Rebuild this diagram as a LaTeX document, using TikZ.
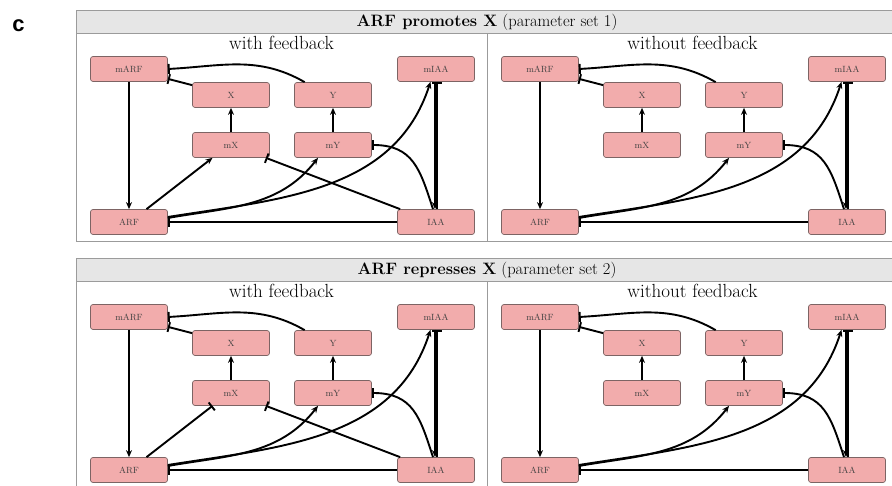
\documentclass[tikz,border=0pt]{standalone}
\usepackage{fontspec}
\newfontfamily\labelfont{Liberation Sans}
\usetikzlibrary{arrows.meta,positioning,calc}
\definecolor{boxpink}{RGB}{242,172,172}
\definecolor{boxedge}{RGB}{125,100,100}
\definecolor{headgray}{RGB}{230,230,230}
\definecolor{framegray}{RGB}{155,155,155}

\begin{document}
\begin{tikzpicture}[x=1pt, y=1pt,
  species/.style={draw=boxedge, fill=boxpink, rounded corners=2.5pt, line width=0.7pt,
    minimum width=77pt, minimum height=25pt, inner sep=0pt, text=black!75,
    font=\fontsize{9}{10}\selectfont},
  act/.style={-{Stealth[length=7pt,width=6pt]}, line width=1.9pt},
  inh/.style={-{Bar[width=10pt]}, line width=1.9pt},
  frame/.style={draw=framegray, line width=1pt}]

\useasboundingbox (0,0) rectangle (892,486);
\node[font=\labelfont\bfseries\fontsize{22}{22}\selectfont] (label) at (18.5,460) {c};

  % two rows of panels, each with and without feedback
\foreach \row/\ytop/\kind/\pset in {p/475/promotes/1, r/227/represses/2} {
  \draw[frame, fill=headgray] (76,\ytop) rectangle (898,\ytop-22.5);
  \draw[frame] (76,\ytop-22.5) rectangle (898,\ytop-231);
  \draw[frame] (487,\ytop-22.5) -- (487,\ytop-231);
  \node[font=\fontsize{16.5}{18}\selectfont] (\row title) at (487,\ytop-11.5) {\textbf{ARF \kind\ X} (parameter set \pset)};
  \foreach \side/\xo/\pantext in {a/76/with feedback, b/487/without feedback} {
    \begin{scope}[shift={(\xo,\ytop)}, name prefix=\row\side-]
\node[font=\fontsize{19}{20}\selectfont] (sub) at (205.5,-32) {\pantext};
\node[species] (mARF) at (53,-58) {mARF}; \node[species] (X) at (155,-84) {X}; \node[species] (Y) at (257,-84) {Y}; \node[species] (mIAA) at (360,-58) {mIAA};
\node[species] (mX) at (155,-134) {mX}; \node[species] (mY) at (257,-134) {mY}; \node[species] (ARF) at (53,-211) {ARF}; \node[species] (IAA) at (360,-211) {IAA};

\draw[act] (mARF) -- (ARF); \draw[act] (mX) -- (X); \draw[act] (mY) -- (Y);
\draw[inh] ([yshift=-3pt]X.north west) -- ([yshift=3pt]mARF.south east);
\draw[inh] ([xshift=10.5pt]Y.north west) to[out=150, in=3] (mARF.east);
\draw[act] ([yshift=4pt]ARF.east) to[out=10, in=232] ([xshift=-15pt]mY.south);
\draw[act] ([yshift=5pt]ARF.east) to[out=9, in=252] ([xshift=-5.5pt]mIAA.south);
\draw[inh] (IAA.west) -- (ARF.east);
\draw[act] ([xshift=-1pt]mIAA.south) -- ([xshift=-1pt]IAA.north);
\draw[inh] ([xshift=1pt]IAA.north) -- ([xshift=1pt]mIAA.south);
\draw[inh] ([xshift=-3pt]IAA.north) to[out=108, in=0, looseness=1.2] (mY.east);
    \end{scope}
  }
}

  % links to mX only with feedback
\draw[act] ([xshift=17.5pt]pa-ARF.north) -- ([xshift=-18.5pt]pa-mX.south);
\draw[inh] ([xshift=17.5pt]ra-ARF.north) -- ([xshift=-18.5pt]ra-mX.south);
\draw[inh] ([xshift=3pt]pa-IAA.north west) -- ([xshift=-4pt]pa-mX.south east);
\draw[inh] ([xshift=3pt]ra-IAA.north west) -- ([xshift=-4pt]ra-mX.south east);

\end{tikzpicture}
\end{document}
